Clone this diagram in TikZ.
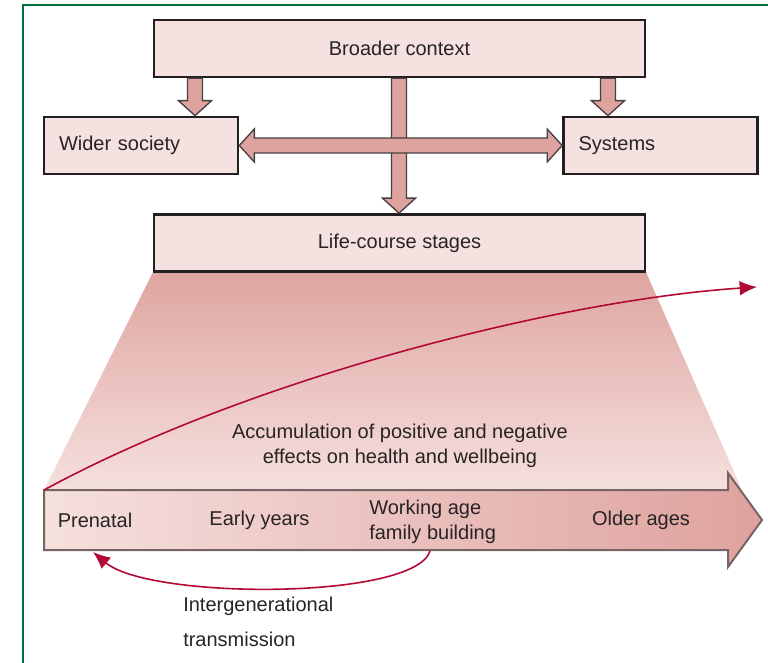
\documentclass[tikz,border=0pt]{standalone}
\usepackage{fontspec}
\setmainfont{Liberation Sans}
\usetikzlibrary{arrows.meta,calc,backgrounds}
\definecolor{framegreen}{RGB}{0,115,60}
\definecolor{edgegray}{RGB}{35,31,32}
\definecolor{textgray}{RGB}{40,35,36}
\definecolor{boxpink}{RGB}{245,225,223}
\definecolor{blockpink}{RGB}{222,163,158}
\definecolor{lifelight}{RGB}{245,224,222}
\definecolor{lifedark}{RGB}{223,162,158}
\definecolor{lifeedge}{RGB}{118,100,100}
\definecolor{fantop}{RGB}{223,165,160}
\definecolor{fanmid}{RGB}{240,211,208}
\definecolor{fanbottom}{RGB}{245,224,222}
\definecolor{linkred}{RGB}{178,10,52}
\tikzstyle{stage}=[draw=edgegray,line width=2pt,fill=boxpink,minimum width=368.25pt,minimum height=42.75pt,inner sep=0pt]
\tikzstyle{sidebox}=[stage,minimum width=145.5pt,text width=123pt,inner xsep=11.25pt,align=left]
\tikzstyle{block}=[draw=edgegray!85,line width=1pt,fill=blockpink]
\tikzstyle{link}=[draw=linkred,line width=1.2pt,-{Latex[length=13pt,width=11pt]}]

% block arrow pointing down, and block arrow with two heads
\newcommand{\downblock}[2]{%
  \draw[block] let \p1=(#1), \p2=(#2) in
    (\x1-5.6pt,\y1) -- (\x1+5.6pt,\y1) -- (\x1+5.6pt,\y2+11.25pt)
    -- (\x1+12.4pt,\y2+11.25pt) -- (\x1,\y2) -- (\x1-12.4pt,\y2+11.25pt)
    -- (\x1-5.6pt,\y2+11.25pt) -- cycle;}
\newcommand{\twoblock}[2]{%
  \draw[block] let \p1=(#1), \p2=(#2) in
    (\x1,\y1) -- (\x1+11.25pt,\y1+12.4pt) -- (\x1+11.25pt,\y1+5.6pt)
    -- (\x2-11.25pt,\y1+5.6pt) -- (\x2-11.25pt,\y1+12.4pt) -- (\x2,\y1)
    -- (\x2-11.25pt,\y1-12.4pt) -- (\x2-11.25pt,\y1-5.6pt)
    -- (\x1+11.25pt,\y1-5.6pt) -- (\x1+11.25pt,\y1-12.4pt) -- cycle;}

\begin{document}
\begin{tikzpicture}[x=0.75pt,y=-0.75pt,text=textgray,font=\fontsize{15}{18.75}\selectfont]
  \useasboundingbox (0,0) rectangle (768,663);
  \draw[framegreen,line width=1.9pt] (23,663) -- (23,5) -- (768,5);

  \node[stage] (broad) at (399.5,48.5) {Broader context};
  \node[sidebox] (wider) at (141,145.5) {Wider society};
  \node[sidebox] (sys) at (660.5,145.5) {Systems};
  \node[stage] (stages) at (399.5,243) {Life-course stages};

  \coordinate (colL) at (195,0);
  \coordinate (colM) at (399,0);
  \coordinate (colR) at (608,0);

  % Connect boxes with block arrows
  \downblock{colL |- broad.south}{colL |- wider.north}
  \downblock{colR |- broad.south}{colR |- sys.north}
  \downblock{colM |- broad.south}{colM |- stages.north}
  \twoblock{wider.east}{sys.west}

  % widening band and the life line
  \coordinate (tail) at (44,490);
  \begin{scope}[on background layer]
    \shade[top color=fantop,middle color=fanmid,bottom color=fanbottom]
      (stages.south west) -- (stages.south east) -- (742,490) -- (tail) -- cycle;
  \end{scope}
  \shadedraw[left color=lifelight,right color=lifedark,draw=lifeedge,line width=1.5pt]
    (tail) -- (728,490) -- (728,473) -- (762,520) -- (728,567) -- (728,550) -- (44,550) -- cycle;

  \node[align=center] (accum) at (400,445.5) {Accumulation of positive and negative\\effects on health and wellbeing};
  \foreach \pos / \name / \txt in {{(95,520)/pre/Prenatal}, {(259.5,520)/early/Early years},
                                   {(641,520)/old/Older ages}}
    \node (\name) at \pos {\txt};
  \node[anchor=west,align=left,inner sep=0pt] (work) at (369,521.5) {Working age\\family building};
  \node[anchor=west,align=left,inner sep=0pt] (inter) at (183,621.5) {Intergenerational\\[7.5pt]transmission};

  % red curves
  \coordinate (head) at (757,287);
  \coordinate (fam) at (430,551);
  \coordinate (pretip) at (93,552);
  \draw[link] (tail) .. controls (250,378) and (560,300) .. (head);
  \draw[link] (fam) .. controls (415,600) and (150,600) .. (pretip);
\end{tikzpicture}
\end{document}
